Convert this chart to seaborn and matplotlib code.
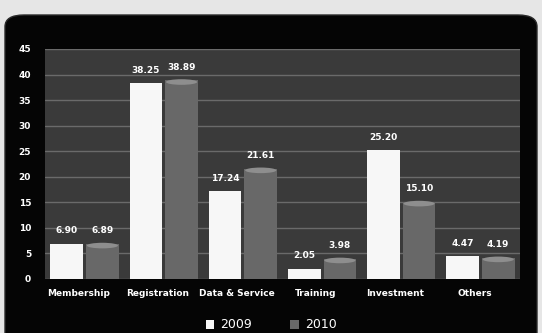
import matplotlib
matplotlib.use("Agg")
import matplotlib.pyplot as plt
import matplotlib.transforms as mtransforms
import seaborn as sns
import pandas as pd
from matplotlib.patches import FancyBboxPatch, Patch, Ellipse

categories = ["Membership", "Registration", "Data & Service", "Training", "Investment", "Others"]
values_2009 = [6.90, 38.25, 17.24, 2.05, 25.20, 4.47]
values_2010 = [6.89, 38.89, 21.61, 3.98, 15.10, 4.19]
series = ["2009", "2010"]
yticks = [0, 5, 10, 15, 20, 25, 30, 35, 40, 45]

df = pd.DataFrame({
    "category": categories * 2,
    "year": [series[0]] * len(categories) + [series[1]] * len(categories),
    "value": values_2009 + values_2010,
})

sns.set_theme(style="dark")
plt.rcParams['font.family'] = ['DejaVu Sans']

fig = plt.figure(figsize=(5.42, 3.33), dpi=100)
fig.patch.set_facecolor("#e6e6e6")
panel = FancyBboxPatch((5/542, -0.1), 532/542, (333-15)/333 + 0.1,
                       boxstyle="round,pad=0,rounding_size=0.035",
                       transform=fig.transFigure, facecolor="#050505",
                       edgecolor="#2a2a2a", linewidth=1.0, zorder=-10)
fig.patches.append(panel)

ax = fig.add_axes([45/542, 1 - 279/333, (520-45)/542, (279-49)/333])
ax.set_zorder(5)
ax.set_facecolor("#3a3a3a")
palette = {"2009": "#f7f7f7", "2010": "#686868"}
sns.barplot(data=df, x="category", y="value", hue="year", order=categories,
            hue_order=series, palette=palette, width=0.9, gap=0.08,
            saturation=1, ax=ax, legend=False, edgecolor="none", zorder=3)

ax.set_ylim(0, 45)
ax.set_yticks(yticks)
ax.set_yticklabels([str(t) for t in yticks], color="white", fontsize=6.5, fontweight="bold")
ax.set_xticks(range(len(categories)))
ax.set_xticklabels(categories, color="white", fontsize=6.5, fontweight="bold")
ax.tick_params(axis="y", length=0, pad=10)
ax.tick_params(axis="x", length=0, pad=7)
shift = mtransforms.ScaledTranslation(-6/100, 0, fig.dpi_scale_trans)
for lbl in ax.get_xticklabels():
    lbl.set_transform(lbl.get_transform() + shift)
ax.set_xlabel("")
ax.set_ylabel("")
ax.grid(axis="y", color="#6a6a6a", linewidth=1.0, zorder=1)
ax.grid(axis="x", visible=False)
ax.set_xlim(-0.5, len(categories) - 0.5)
for s in ax.spines.values():
    s.set_visible(False)

# light top cap on the 2010 bars (cylinder look)
for bar in ax.containers[1]:
    x0 = bar.get_x()
    w = bar.get_width()
    h = bar.get_height()
    cap = Ellipse((x0 + w / 2, h - 0.35), w * 0.95, 1.1, facecolor="#8e8e8e",
                  edgecolor="none", zorder=4)
    ax.add_patch(cap)

for container in ax.containers:
    ax.bar_label(container, fmt="%.2f", color="white", fontsize=6.5,
                 fontweight="bold", padding=6)

handles = [Patch(facecolor=palette[s], edgecolor="none") for s in series]
leg = fig.legend(handles, series, loc="center", bbox_to_anchor=(0.5, 1 - 325/333),
                 ncol=2, frameon=False, fontsize=9, labelcolor="white",
                 handlelength=0.7, handleheight=0.7, columnspacing=3.0, handletextpad=0.5)
leg.set_zorder(6)

fig.savefig("out.png", dpi=100, facecolor=fig.get_facecolor())
